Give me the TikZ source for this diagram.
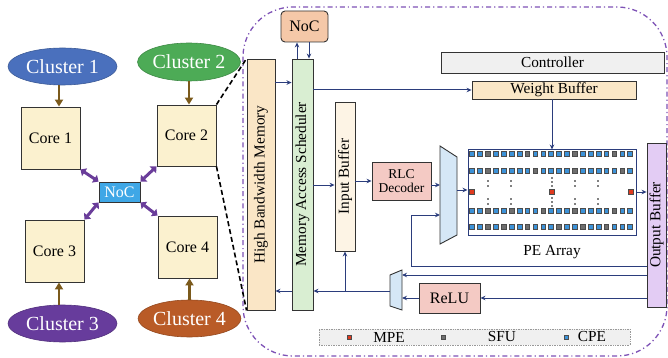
\documentclass[tikz,border=0pt]{standalone}
\usepackage{fontspec}
\setmainfont{Liberation Serif}
\usetikzlibrary{arrows.meta,shapes.geometric,calc}
\definecolor{navy}{HTML}{2B3D7C}
\definecolor{brownar}{HTML}{7B5A1C}
\definecolor{purplear}{HTML}{6A3D9A}
\definecolor{coreF}{HTML}{FBF1CF}
\definecolor{cOne}{HTML}{4A70BD}
\definecolor{cTwo}{HTML}{4DAB56}
\definecolor{cThree}{HTML}{673C9C}
\definecolor{cFour}{HTML}{B95B27}
\definecolor{nocL}{HTML}{3FA7E6}
\definecolor{nocT}{HTML}{F5C8A8}
\definecolor{hbmF}{HTML}{FAE6C6}
\definecolor{masF}{HTML}{D9EED2}
\definecolor{ibF}{HTML}{FDF4E5}
\definecolor{rlcF}{HTML}{F4CAC4}
\definecolor{muxF}{HTML}{D5E7F6}
\definecolor{obF}{HTML}{E3CCF4}
\definecolor{ctrlF}{HTML}{F0F0F0}
\definecolor{wbF}{HTML}{FAE7C7}
\definecolor{frameC}{HTML}{7E52B6}
\definecolor{sqB}{HTML}{3C92D8}
\definecolor{sqG}{HTML}{6E6E6E}
\definecolor{sqR}{HTML}{E03A1E}
\tikzset{
  box/.style={draw=black!80, line width=0.9pt, inner sep=0pt, font=\fontsize{15.3}{16}\selectfont},
  corebox/.style={box, fill=coreF, minimum width=59pt, minimum height=62pt, font=\fontsize{16}{17}\selectfont},
  cluster/.style={ellipse, inner sep=0pt, text=white, font=\fontsize{20}{22}\selectfont, line width=0.6pt},
  vbox/.style={box, rotate=90},
  nav/.style={draw=navy, line width=1pt, -{Stealth[length=5pt,width=4.5pt]}},
  brn/.style={draw=brownar, line width=2.5pt, -{Triangle[length=7pt,width=8pt]}},
  pur/.style={draw=purplear, line width=3pt, {Triangle[length=5pt,width=9pt]}-{Triangle[length=5pt,width=9pt]}},
  dashlink/.style={draw=black, line width=1.6pt, dash pattern=on 5pt off 3pt},
  pesq/.style={draw=black!70, line width=0.4pt, minimum size=4.7pt, inner sep=0pt},
  pedot/.style={fill=black, circle, inner sep=0pt, minimum size=1.7pt},
  lbl/.style={font=\fontsize{15.3}{16}\selectfont, inner sep=0pt}
}
\begin{document}
\begin{tikzpicture}[x=1pt,y=-1pt]
\useasboundingbox (0,0) rectangle (668,358);
% frame
\draw[frameC, line width=1.3pt, dash pattern=on 5pt off 3pt on 1.2pt off 3pt, rounded corners=50pt] (243,7) rectangle (667,356);
% left side
\node[cluster, fill=cOne, draw=cOne!80!black, minimum width=109pt, minimum height=37pt] (Cl1) at (62.5,66.5) {Cluster 1};
\node[cluster, fill=cTwo, draw=cTwo!80!black, minimum width=102pt, minimum height=38pt] (Cl2) at (189,62) {Cluster 2};
\node[cluster, fill=cThree, draw=cThree!80!black, minimum width=109pt, minimum height=37pt] (Cl3) at (62.5,323.5) {Cluster 3};
\node[cluster, fill=cFour, draw=cFour!80!black, minimum width=99pt, minimum height=37pt] (Cl4) at (189.5,318.5) {Cluster 4};
\node[corebox] (C1) at (50.5,138) {Core 1};
\node[corebox, minimum height=61pt] (C2) at (186.5,135.5) {Core 2};
\node[corebox] (C3) at (54.5,251) {Core 3};
\node[corebox] (C4) at (187.5,247) {Core 4};
\node[box, fill=nocL, text=white, minimum width=41pt, minimum height=20pt, font=\fontsize{16}{17}\selectfont] (NL) at (119.5,192) {NoC};
\draw[brn] ([xshift=-3.5pt]Cl1.south) -- ([xshift=-3.5pt]Cl1.south |- C1.north);
\draw[brn] (Cl2.south) -- (Cl2.south |- C2.north);
\draw[brn] ([xshift=-3.5pt]Cl3.north) -- ([xshift=-3.5pt]Cl3.north |- C3.south);
\draw[brn] (Cl4.north) -- (Cl4.north |- C4.south);
\draw[pur] (C1.south east) -- (NL.north west);
\draw[pur] (C2.south west) -- (NL.north east);
\draw[pur] (C3.north east) -- (NL.south west);
\draw[pur] (C4.north west) -- (NL.south east);
% right side nodes
\node[box, fill=nocT, rounded corners=4pt, minimum width=47pt, minimum height=31pt, font=\fontsize{16}{17}\selectfont] (NT) at (304.5,26.5) {NoC};
\node[vbox, fill=hbmF, minimum width=251pt, minimum height=28pt] (HBM) at (261,184.5) {High Bandwidth Memory};
\node[vbox, fill=masF, minimum width=251pt, minimum height=21pt] (MAS) at (302.5,184.5) {Memory Access Scheduler};
\node[box, fill=ctrlF, minimum width=223pt, minimum height=21pt] (CTL) at (552.5,62.5) {Controller};
\node[box, fill=wbF, minimum width=164pt, minimum height=18pt] (WB) at (554,90) {Weight Buffer};
\node[box, draw=navy, line width=1pt, fill=white, minimum width=168pt, minimum height=85pt] (PE) at (552,192.5) {};
\node[vbox, fill=obF, minimum width=164pt, minimum height=19pt] (OB) at (656.5,225) {Output Buffer};
\node[vbox, fill=ibF, minimum width=149pt, minimum height=20pt] (IB) at (345,176.5) {Input Buffer};
\node[box, fill=rlcF, minimum width=59pt, minimum height=38pt, align=center, font=\fontsize{13.5}{14}\selectfont] (RLC) at (401.5,181) {RLC\\Decoder};
\node[box, fill=rlcF, minimum width=61pt, minimum height=30pt, font=\fontsize{16}{17}\selectfont] (RELU) at (449.5,298) {ReLU};
\node[lbl] (PEL) at (552,252) {PE Array};
% muxes
\draw[draw=black!80, line width=0.9pt, fill=muxF] (440,146) -- (457,157) -- (457,235) -- (440,244) -- cycle;
\coordinate (muxinA) at (440,185);
\coordinate (muxinB) at (440,215);
\coordinate (muxout) at (457,190);
\draw[draw=black!80, line width=0.9pt, fill=muxF] (390,275) -- (402,270) -- (402,310) -- (390,306) -- cycle;
\coordinate (sminA) at (402,275);
\coordinate (sminB) at (402,298);
\coordinate (smout) at (390,291);
\coordinate (fbc) at (411,266);
% dashed links (rotated node: north = left side, east = top)
\draw[dashlink] (C2.north east) -- (HBM.north east);
\draw[dashlink] (C2.south east) -- (HBM.north west);
% navy connectors
\draw[nav] ([xshift=-5.5pt]MAS.east) -- ([xshift=-5.5pt]MAS.east |- NT.south);
\draw[nav] ([xshift=6.5pt]MAS.east |- NT.south) -- ([xshift=6.5pt]MAS.east);
\draw[nav] ([yshift=-24pt]HBM.south east) -- ([yshift=-24pt]HBM.south east -| MAS.north);
\draw[nav] (MAS.south |- WB.west) -- (WB.west);
\draw[nav] (PE.north |- WB.south) -- (PE.north);
\draw[nav] (MAS.south |- muxinA) -- (IB.north |- muxinA);
\draw[nav] (IB.south |- RLC.west) -- (RLC.west);
\draw[nav] (RLC.east |- muxinA) -- (muxinA);
\draw[nav] (muxout) -- (PE.west |- muxout);
\draw[nav] (PE.east |- 0,192) -- (OB.north |- 0,192);
\draw[nav] (OB.north |- fbc) -- (fbc) |- (muxinB);
\draw[nav] (OB.north |- sminA) -- (sminA);
\draw[nav] (OB.north |- RELU.east) -- (RELU.east);
\draw[nav] (RELU.west) -- (sminB);
\draw[nav] (smout) -- (MAS.south |- smout);
\draw[nav] (IB.west |- smout) -- (IB.west);
\draw[nav] (MAS.north |- smout) -- (HBM.south |- smout);
% PE array squares
\foreach \r/\y/\g in {1/154/{3,8,14,19}, 2/171/{3,9,14,20}, 4/211/{3,6,10,14,19}, 5/227/{3,5,8,12,15,18}}{
  \foreach \i in {1,...,21}{
    \foreach \gg in \g {\ifnum\gg=\i\relax\global\def\gcol{1}\fi}
    \ifx\gcol\undefined\node[pesq, fill=sqB] (sq\r-\i) at ({472+(\i-1)*7.9},\y) {};
    \else\node[pesq, fill=sqG] (sq\r-\i) at ({472+(\i-1)*7.9},\y) {};\global\let\gcol\undefined\fi
  }
}
\node[pesq, fill=sqR, minimum size=5pt] (mpeA) at (472,192) {};
\node[pesq, fill=sqR, minimum size=5pt] (mpeB) at (552,192) {};
\node[pesq, fill=sqR, minimum size=5pt] (mpeC) at (631,192) {};
\foreach \x in {488,511,575,598}{
  \node[pedot] at (\x,181) {}; \node[pedot] at (\x,186) {};
  \node[pedot] at (\x,199) {}; \node[pedot] at (\x,204) {};
}
\foreach \yy in {178,182,186,198,202,206}{\node[pedot] at (552,\yy) {};}
% legend
\node[draw=black!40, densely dotted, line width=0.7pt, fill=black!6, minimum width=311pt, minimum height=16pt, inner sep=0pt] (LEG) at (474.5,337) {};
\node[pesq, fill=sqR, minimum size=4.5pt] (lgR) at (349,337) {};
\node[lbl] (lgRt) at (389,337) {MPE};
\node[pesq, fill=sqG, minimum size=4.5pt] (lgG) at (443,337) {};
\node[lbl] (lgGt) at (502,337) {SFU};
\node[pesq, fill=sqB, minimum size=4.5pt] (lgB) at (566,337) {};
\node[lbl] (lgBt) at (592,337) {CPE};
\end{tikzpicture}
\end{document}
